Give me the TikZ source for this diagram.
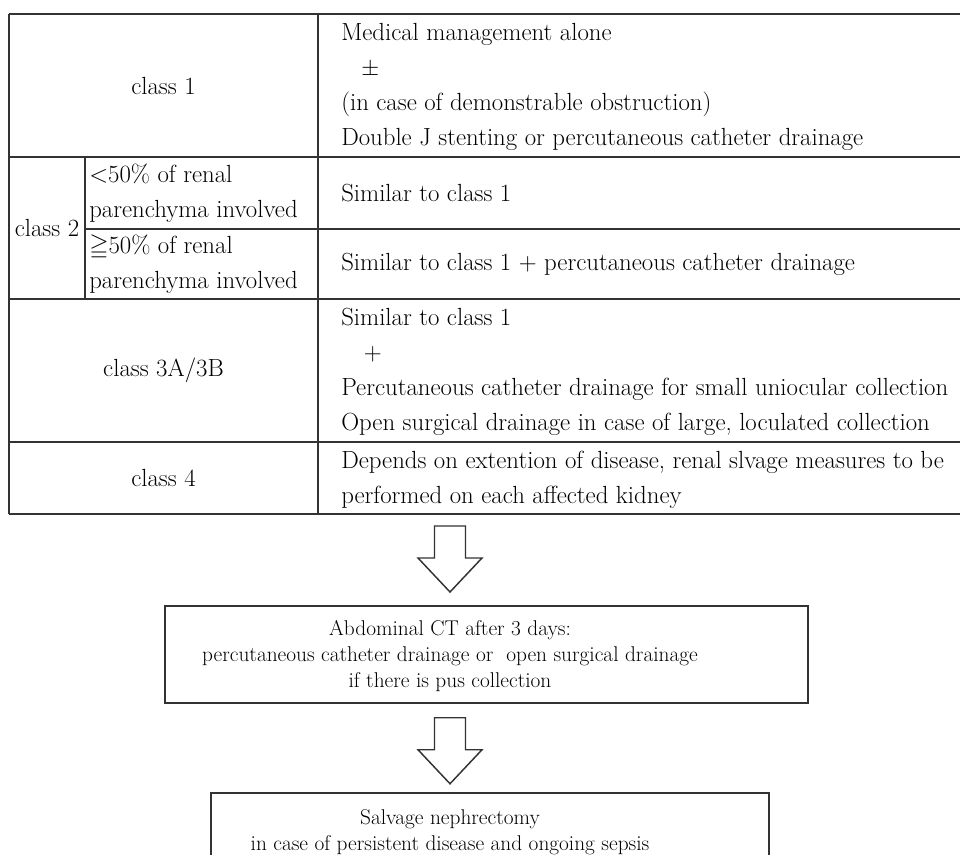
\documentclass[tikz,border=0pt]{standalone}
\usepackage{amssymb}
\usetikzlibrary{calc}
\begin{document}
\begin{tikzpicture}[x=0.75pt,y=-0.75pt,
  rule/.style={line width=1.1pt, draw=black!80},
  cell/.style={inner sep=0pt, font=\fontsize{18.6}{26.25}\selectfont},
  lcell/.style={cell, align=left, anchor=west},
  ccell/.style={cell, align=center},
  box/.style={draw=black!80, line width=1.1pt, inner sep=0pt},
  boxtext/.style={inner sep=0pt, align=center, font=\fontsize{16}{19.5}\selectfont},
  blockarr/.pic={\draw[line width=1.1pt, draw=black!80, fill=white]
     (-15.5,0) -- (15.5,0) -- (15.5,32) -- (32,32) -- (0,66) -- (-32,32) -- (-15.5,32) -- cycle;}
]
\useasboundingbox (0,0) rectangle (960,855);
% table rules
\draw[rule] (9,14) -- (975,14);
\draw[rule] (9,14) -- (9,514);
\draw[rule] (318,14) -- (318,514);
\draw[rule] (9,157) -- (975,157);
\draw[rule] (85,229) -- (975,229);
\draw[rule] (85,157) -- (85,299);
\draw[rule] (9,299) -- (975,299);
\draw[rule] (9,442) -- (975,442);
\draw[rule] (9,514) -- (975,514);
\coordinate (tblbot) at (450,514);
% left column
\node[ccell] (c1) at (163.5,85.5) {class 1};
\node[ccell] (c2) at (47,228) {class 2};
\node[lcell] (c2a) at (89,193) {\textless50\% of renal\\parenchyma involved};
\node[lcell] (c2b) at (89,264) {$\geqq$50\% of renal\\parenchyma involved};
\node[ccell] (c3) at (163.5,370.5) {class 3A/3B};
\node[ccell] (c4) at (163.5,478) {class 4};
% right column
\node[lcell] (t1) at (341,87) {Medical management alone\\\hspace*{15pt}$\pm$\\(in case of demonstrable obstruction)\\Double J stenting or percutaneous catheter drainage};
\node[lcell] (t2a) at (341,193) {Similar to class 1};
\node[lcell] (t2b) at (341,264) {Similar to class 1 + percutaneous catheter drainage};
\node[lcell] (t3) at (341,372) {Similar to class 1\\\hspace*{17pt}+\\Percutaneous catheter drainage for small uniocular collection\\Open surgical drainage in case of large, loculated collection};
\node[lcell] (t4) at (341,480) {Depends on extention of disease, renal slvage measures to be\\performed on each affected kidney};
% boxes
\node[box, minimum width=482.25pt, minimum height=72.75pt] (b2) at (486.5,654.5) {};
\node[boxtext] (b2t) at (450,656) {Abdominal CT after 3 days:\\percutaneous catheter drainage or~ open surgical drainage\\if there is pus collection};
\node[box, minimum width=418.5pt, minimum height=65.25pt] (b3) at (490,836.5) {};
\node[boxtext] (b3t) at (450,832) {Salvage nephrectomy\\in case of persistent disease and ongoing sepsis};
% block arrows
\pic at ($(tblbot)+(0,12)$) {blockarr};
\pic at ($(b2.south -| tblbot)+(0,14)$) {blockarr};
\end{tikzpicture}
\end{document}
